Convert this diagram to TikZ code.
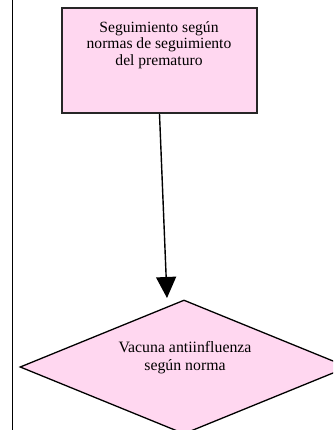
\documentclass[tikz,border=0pt]{standalone}
\usepackage{fontspec}
\setmainfont{Liberation Serif}
\usetikzlibrary{shapes.geometric,arrows.meta}
\definecolor{boxpink}{RGB}{255,215,240}
\tikzset{
  stepbox/.style={draw=black!85, line width=2pt, fill=boxpink, minimum width=195pt, minimum height=104.5pt, inner sep=0pt},
  decbox/.style={diamond, draw=black, line width=1.3pt, fill=boxpink, minimum width=328pt, minimum height=134pt, inner sep=0pt},
  lbl/.style={font=\fontsize{15.6pt}{16.8pt}\selectfont, align=center, inner sep=0pt},
  conn/.style={line width=1.4pt, -{Triangle[width=20pt,length=21pt]}}
}
\begin{document}
\begin{tikzpicture}[x=1pt,y=1pt]
\useasboundingbox (0,0) rectangle (333,430);
\clip (0,0) rectangle (333,430);
\draw[line width=1.4pt] (12.5,0) -- (12.5,430);
\node[stepbox] (r) at (159.5,369.25) {};
\node[lbl, anchor=north] (rt) at (159,409) {Seguimiento según\\normas de seguimiento\\del prematuro};
\node[decbox] (d) at (184,63) {};
\node[lbl, font=\fontsize{15.8pt}{18.5pt}\selectfont] (dt) at (185,72.5) {Vacuna antiinfluenza\\según norma};
\coordinate (tip) at (167,132);
\draw[conn] (r.south) -- (tip);
\end{tikzpicture}
\end{document}
